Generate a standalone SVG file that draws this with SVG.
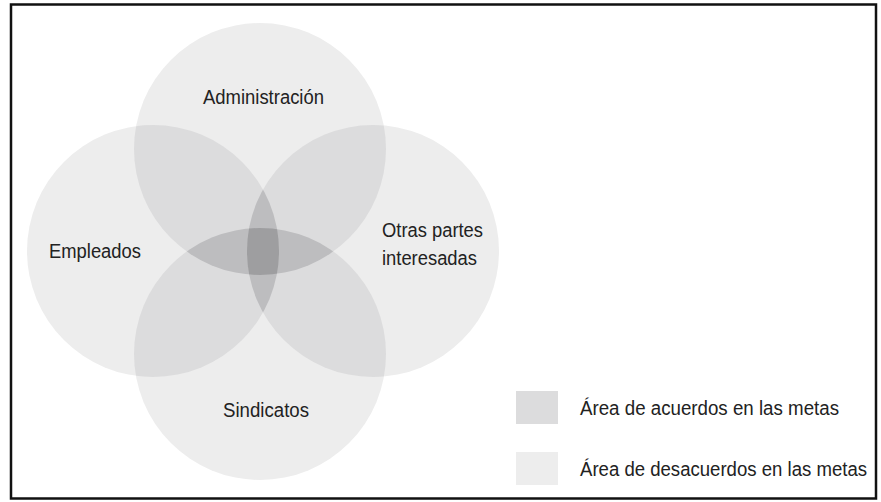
<svg xmlns="http://www.w3.org/2000/svg" width="881" height="502" viewBox="0 0 881 502">
<style>
.lbl{font-family:"Liberation Sans","Arial",sans-serif;font-size:20px;fill:#222}
.c1{fill:#ededed}
.c2{fill:#dcdcdd}
.c3{fill:#bdbdbf}
.c4{fill:#9e9ea0}
</style>
<defs>
<clipPath id="cA"><circle cx="260" cy="149" r="126"/></clipPath>
<clipPath id="cE"><circle cx="153" cy="251" r="126"/></clipPath>
<clipPath id="cO"><circle cx="373" cy="251" r="126"/></clipPath>
<clipPath id="cS"><circle cx="260" cy="354" r="126"/></clipPath>
</defs>
<rect x="0" y="0" width="881" height="502" fill="#fff"/>
<rect x="11" y="4.5" width="865" height="494" fill="none" stroke="#111" stroke-width="2.5"/>
<g id="circles">
<g id="administracion"><circle class="c1" cx="260" cy="149" r="126"/></g>
<g id="empleados"><circle class="c1" cx="153" cy="251" r="126"/></g>
<g id="otras"><circle class="c1" cx="373" cy="251" r="126"/></g>
<g id="sindicatos"><circle class="c1" cx="260" cy="354" r="126"/></g>
</g>
<g id="overlaps2">
<g clip-path="url(#cA)"><circle class="c2" cx="153" cy="251" r="126"/><circle class="c2" cx="373" cy="251" r="126"/><circle class="c2" cx="260" cy="354" r="126"/></g>
<g clip-path="url(#cS)"><circle class="c2" cx="153" cy="251" r="126"/><circle class="c2" cx="373" cy="251" r="126"/></g>
<g clip-path="url(#cE)"><circle class="c2" cx="373" cy="251" r="126"/></g>
</g>
<g id="overlaps3">
<g clip-path="url(#cA)"><g clip-path="url(#cS)"><circle class="c3" cx="153" cy="251" r="126"/><circle class="c3" cx="373" cy="251" r="126"/></g></g>
<g clip-path="url(#cE)"><g clip-path="url(#cO)"><circle class="c3" cx="260" cy="149" r="126"/><circle class="c3" cx="260" cy="354" r="126"/></g></g>
</g>
<g id="overlap4">
<g clip-path="url(#cA)"><g clip-path="url(#cS)"><g clip-path="url(#cE)"><circle class="c4" cx="373" cy="251" r="126"/></g></g></g>
</g>
<g id="labels">
<text class="lbl" x="203" y="104" textLength="121" lengthAdjust="spacingAndGlyphs">Administración</text>
<text class="lbl" x="49" y="258" textLength="92" lengthAdjust="spacingAndGlyphs">Empleados</text>
<text class="lbl" x="382" y="237" textLength="101" lengthAdjust="spacingAndGlyphs">Otras partes</text>
<text class="lbl" x="382" y="265" textLength="95" lengthAdjust="spacingAndGlyphs">interesadas</text>
<text class="lbl" x="223" y="417" textLength="86" lengthAdjust="spacingAndGlyphs">Sindicatos</text>
</g>
<g id="legend">
<rect class="c2" x="516" y="391" width="42" height="33"/>
<text class="lbl" x="580" y="415" textLength="259" lengthAdjust="spacingAndGlyphs">Área de acuerdos en las metas</text>
<rect class="c1" x="516" y="452" width="42" height="33"/>
<text class="lbl" x="580" y="476" textLength="287" lengthAdjust="spacingAndGlyphs">Área de desacuerdos en las metas</text>
</g>
</svg>
